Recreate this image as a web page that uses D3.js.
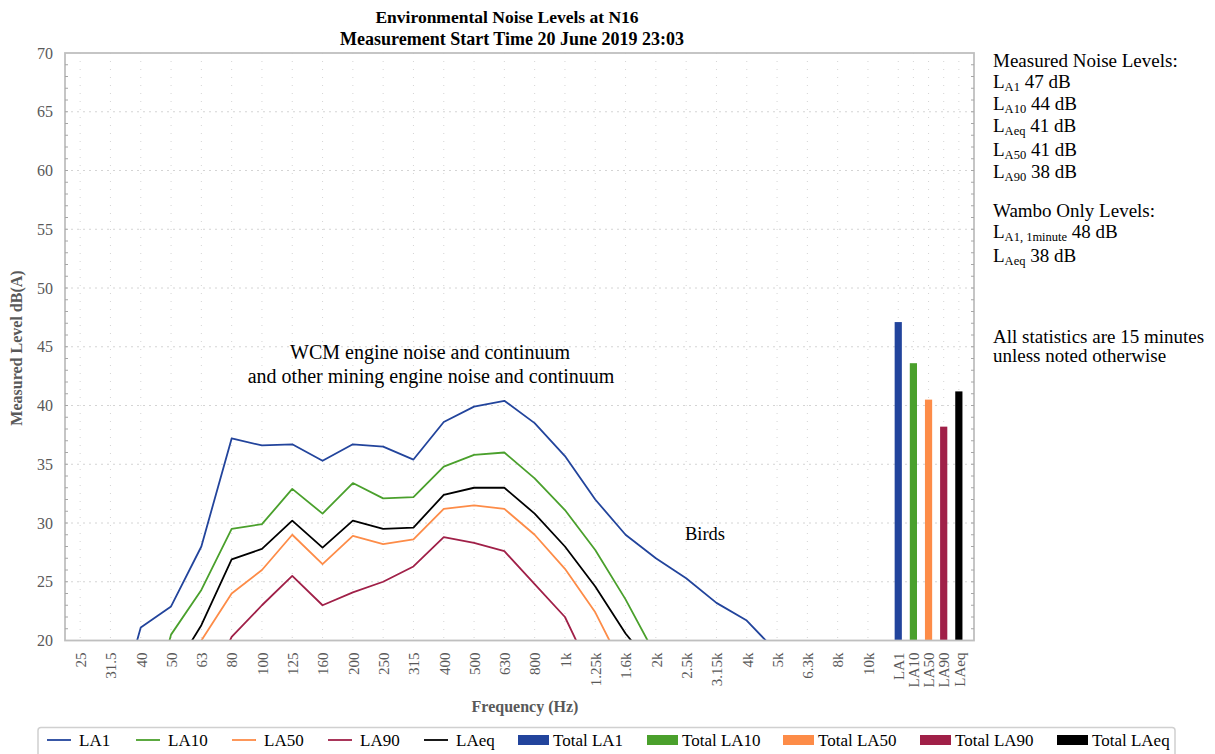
<!DOCTYPE html>
<html><head><meta charset="utf-8">
<script src="https://cdn.jsdelivr.net/npm/d3@7"></script>
<style>
html,body{margin:0;padding:0;background:#fff;}
svg{display:block;font-family:"Liberation Serif","Times New Roman",serif;}
</style></head>
<body>
<svg id="chart" width="1215" height="754"></svg>
<script>
// ---- data ----
const freqLabels = ["25","31.5","40","50","63","80","100","125","160","200","250","315","400","500","630","800","1k","1.25k","1.6k","2k","2.5k","3.15k","4k","5k","6.3k","8k","10k"];
const totalLabels = ["LA1","LA10","LA50","LA90","LAeq"];
const seriesNames = ["LA1","LA10","LA50","LA90","LAeq"];
const la1  = [8, 12, 21.1, 22.9, 28.0, 37.2, 36.6, 36.7, 35.3, 36.7, 36.5, 35.4, 38.6, 39.9, 40.4, 38.5, 35.7, 32.0, 29.0, 27.0, 25.3, 23.2, 21.7, 19.0, 17, 15, 13];
const la10 = [5, 8, 11, 20.5, 24.3, 29.5, 29.9, 32.9, 30.8, 33.4, 32.1, 32.2, 34.8, 35.8, 36.0, 33.8, 31.1, 27.7, 23.5, 18.7, 16, 14, 12, 10, 9, 8, 7];
const la50 = [3, 6, 9, 14, 20.0, 24.0, 26.0, 29.0, 26.5, 28.9, 28.2, 28.6, 31.2, 31.5, 31.2, 29.0, 26.1, 22.4, 17.3, 14, 12, 11, 10, 9, 8, 7, 6];
const la90 = [2, 5, 8, 11, 15, 20.3, 23.0, 25.5, 23.0, 24.1, 25.0, 26.3, 28.8, 28.3, 27.6, 24.8, 22.0, 16.6, 13, 11, 10, 9, 8, 7, 6, 5, 4];
const laeq = [4, 7, 11, 17.1, 21.3, 26.9, 27.8, 30.2, 27.9, 30.2, 29.5, 29.6, 32.4, 33.0, 33.0, 30.8, 28.0, 24.6, 20.6, 17.4, 15, 14, 12, 11, 10, 9, 8];
const totals = [47.1, 43.6, 40.5, 38.2, 41.2];
const yTicks = [20,25,30,35,40,45,50,55,60,65,70];
const colors = ["#22449c","#4aa02c","#fd8c48","#a02048","#000000"];

const seriesData = [la1, la10, la50, la90, laeq];

// ---- layout ----
const svg = d3.select("#chart");
const L = 65, R = 974, T = 53, B = 640.5;
const x = d3.scaleLinear().domain([-0.5, 29.5]).range([L, R]);
const y = d3.scaleLinear().domain([20, 70]).range([B, T]);
const nF = freqLabels.length;
const posIndex = (i) => i < nF ? i : nF + (i - nF) * 0.5;
const allLabels = freqLabels.concat(totalLabels);
const gray = "#595959";

// grid
const grid = svg.append("g");
grid.selectAll("line.h").data(yTicks.filter(v => v > 20 && v < 70)).join("line")
  .attr("x1", L).attr("x2", R).attr("y1", d => y(d)).attr("y2", d => y(d))
  .attr("stroke", "#d4d4d4").attr("stroke-width", 1).attr("stroke-dasharray", "2,4");
grid.selectAll("line.v").data(allLabels.map((d,i) => posIndex(i))).join("line")
  .attr("x1", d => x(d)).attr("x2", d => x(d)).attr("y1", T).attr("y2", B)
  .attr("stroke", "#d4d4d4").attr("stroke-width", 1).attr("stroke-dasharray", "1,7");

// clip
svg.append("clipPath").attr("id","clip").append("rect")
  .attr("x", L).attr("y", T).attr("width", R - L).attr("height", B - T);

// bars
svg.append("g").attr("clip-path","url(#clip)").selectAll("rect").data(totals).join("rect")
  .attr("x", (d,i) => x(posIndex(nF + i)) - 3.6)
  .attr("width", 7.2)
  .attr("y", d => y(d))
  .attr("height", d => B - y(d))
  .attr("fill", (d,i) => colors[i]);

// lines
const line = d3.line().x((d,i) => x(posIndex(i))).y(d => y(d));
svg.append("g").attr("clip-path","url(#clip)").selectAll("path").data(seriesData).join("path")
  .attr("d", d => line(d))
  .attr("fill", "none")
  .attr("stroke", (d,i) => colors[i])
  .attr("stroke-width", 1.8)
  .attr("stroke-linejoin", "round");

// frame
svg.append("rect").attr("x", L).attr("y", T).attr("width", R - L).attr("height", B - T)
  .attr("fill", "none").attr("stroke", "#bfbfbf").attr("stroke-width", 1.8);

// minor ticks on left and right (inward)
const minor = d3.range(21, 70);
svg.append("g").selectAll("line").data(minor).join("line")
  .attr("x1", L).attr("x2", L + 3).attr("y1", d => y(d)).attr("y2", d => y(d))
  .attr("stroke", "#a6a6a6").attr("stroke-width", 1);
svg.append("g").selectAll("line").data(minor).join("line")
  .attr("x1", R).attr("x2", R - 3).attr("y1", d => y(d)).attr("y2", d => y(d))
  .attr("stroke", "#a6a6a6").attr("stroke-width", 1);

// y axis labels
const yAxis = d3.axisLeft(y).tickValues(yTicks).tickSize(0).tickPadding(12);
const gy = svg.append("g").attr("transform", `translate(${L},0)`).call(yAxis);
gy.select(".domain").remove();
gy.selectAll("text").attr("font-family", "Liberation Serif").attr("font-size", 16).attr("fill", gray);

// x axis labels
const xAxis = d3.axisBottom(d3.scaleLinear().domain(x.domain()).range(x.range()))
  .tickValues(allLabels.map((d,i) => posIndex(i)))
  .tickFormat((d,i) => allLabels[i]).tickSize(0);
const gx = svg.append("g").attr("transform", `translate(0,${B})`).call(xAxis);
gx.select(".domain").remove();
gx.selectAll("text")
  .attr("font-family", "Liberation Serif").attr("font-size", 15).attr("fill", gray)
  .attr("transform", "rotate(-90)")
  .attr("text-anchor", "end")
  .attr("x", -12).attr("y", 0).attr("dy", "0.35em");

// axis titles
svg.append("text").attr("x", 525).attr("y", 712).attr("text-anchor", "middle")
  .attr("font-weight", "bold").attr("font-size", 16).attr("fill", gray).text("Frequency (Hz)");
svg.append("text").attr("transform", "translate(22,348) rotate(-90)").attr("text-anchor", "middle")
  .attr("font-weight", "bold").attr("font-size", 16).attr("fill", gray).text("Measured Level dB(A)");

// title
svg.append("text").attr("x", 507).attr("y", 23).attr("text-anchor", "middle")
  .attr("font-weight", "bold").attr("font-size", 17.5).attr("fill", "#000").text("Environmental Noise Levels at N16");
svg.append("text").attr("x", 512).attr("y", 45).attr("text-anchor", "middle")
  .attr("font-weight", "bold").attr("font-size", 18).attr("fill", "#000").text("Measurement Start Time 20 June 2019 23:03");

// annotations
svg.append("text").attr("x", 430).attr("y", 359).attr("text-anchor", "middle")
  .attr("font-size", 20).text("WCM engine noise and continuum");
svg.append("text").attr("x", 431).attr("y", 383).attr("text-anchor", "middle")
  .attr("font-size", 20).text("and other mining engine noise and continuum");
svg.append("text").attr("x", 705).attr("y", 540).attr("text-anchor", "middle")
  .attr("font-size", 18.5).text("Birds");

// right side text
const rt = svg.append("g").attr("font-size", 19).attr("fill", "#000");
function subLine(yy, sub, rest) {
  const t = rt.append("text").attr("x", 993).attr("y", yy);
  t.append("tspan").text("L");
  t.append("tspan").attr("font-size", 12.5).attr("dy", 3).text(sub);
  t.append("tspan").attr("dy", -3).text(" " + rest);
}
rt.append("text").attr("x", 993).attr("y", 67).text("Measured Noise Levels:");
subLine(88, "A1", "47 dB");
subLine(110, "A10", "44 dB");
subLine(132, "Aeq", "41 dB");
subLine(156, "A50", "41 dB");
subLine(178, "A90", "38 dB");
rt.append("text").attr("x", 993).attr("y", 217).text("Wambo Only Levels:");
subLine(238, "A1, 1minute", "48 dB");
subLine(262, "Aeq", "38 dB");
rt.append("text").attr("x", 993).attr("y", 343).text("All statistics are 15 minutes");
rt.append("text").attr("x", 993).attr("y", 362).text("unless noted otherwise");

// legend
svg.append("rect").attr("x", 38).attr("y", 727.5).attr("width", 1137).attr("height", 40).attr("rx", 3)
  .attr("fill", "#fff").attr("stroke", "#d0d0d0").attr("stroke-width", 1.5);
const lineLegX = [47, 136, 232, 328, 424];
const barLegX = [518, 647, 783, 920, 1057];
const lg = svg.append("g").attr("font-size", 17);
seriesNames.forEach((n, i) => {
  lg.append("line").attr("x1", lineLegX[i]).attr("x2", lineLegX[i] + 24).attr("y1", 740).attr("y2", 740)
    .attr("stroke", colors[i]).attr("stroke-width", 1.8);
  lg.append("text").attr("x", lineLegX[i] + 32).attr("y", 746).text(n);
});
totalLabels.forEach((n, i) => {
  lg.append("rect").attr("x", barLegX[i]).attr("y", 735).attr("width", 31).attr("height", 10).attr("fill", colors[i]);
  lg.append("text").attr("x", barLegX[i] + 35).attr("y", 746).text("Total " + n);
});
</script>
</body></html>
